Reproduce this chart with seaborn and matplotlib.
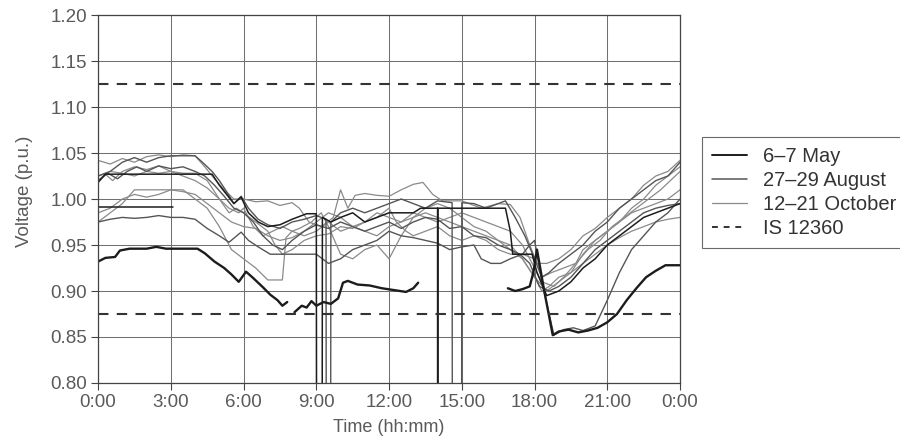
import numpy as np
import pandas as pd
import seaborn as sns
import matplotlib.pyplot as plt
from matplotlib.lines import Line2D

# time of day in hours, NaN marks a gap in the record
may_a_t = [0, 0.3, 0.7, 0.9, 1.3, 2.0, 2.4, 2.8, 3.5, 4.1, 4.4, 4.8, 5.2, 5.5, 5.8, 6.1, 6.4, 6.8, 7.1, 7.4, 7.6, 7.8,
           np.nan, 8.1, 8.4, 8.6, 8.8, 9.0, 9.3, 9.6, 9.9, 10.1, 10.3, 10.7, 11.2, 11.7, 12.2, 12.7, 13.0, 13.2,
           np.nan, 16.9, 17.2, 17.5, 17.8, 17.95, 18.1, 18.4, 18.75, 19.0, 19.4, 19.8, 20.2, 20.6, 21.0, 21.4,
           21.8, 22.2, 22.6, 23.0, 23.4, 24.0]
may_a_v = [0.932, 0.936, 0.937, 0.944, 0.946, 0.946, 0.948, 0.946, 0.946, 0.946, 0.941, 0.932, 0.925, 0.918, 0.91,
           0.921, 0.914, 0.904, 0.896, 0.89, 0.884, 0.888,
           np.nan, 0.877, 0.884, 0.882, 0.889, 0.884, 0.888, 0.886, 0.892, 0.909, 0.911, 0.907, 0.906, 0.903, 0.901,
           0.899, 0.903, 0.909,
           np.nan, 0.903, 0.9, 0.902, 0.905, 0.92, 0.945, 0.9, 0.852, 0.856, 0.858, 0.855, 0.857, 0.86, 0.866, 0.875,
           0.89, 0.903, 0.915, 0.922, 0.928, 0.928]

may_b_t = [0, 3.1]
may_b_v = [0.991, 0.991]

may_c_t = [0, 0.3, 4.7, 5.0, 5.3, 5.6, 5.9, 6.2, 6.6, 7.0, 7.5, 8.0, 8.6, 9.0, 9.01, 9.24, 9.25, 9.6, 10.0, 10.5,
           11.0, 11.5, 12.0, 13.0, 13.3, 14.0, 14.002, 14.008, 14.01, 15.0, 16.0, 16.8, 17.0, 17.1, 17.9, 18.1, 18.5,
           19.0, 19.5, 20.0, 20.5, 21.0, 21.5, 22.0, 22.5, 23.0, 23.5, 24.0]
may_c_v = [1.018, 1.027, 1.027, 1.015, 1.005, 0.995, 1.002, 0.985, 0.975, 0.97, 0.972, 0.978, 0.984, 0.984, 0.70,
           0.70, 0.98, 0.975, 0.98, 0.985, 0.975, 0.98, 0.985, 0.985, 0.99, 0.99, 0.70, 0.70, 0.99, 0.99, 0.99,
           0.99, 0.965, 0.94, 0.94, 0.92, 0.895, 0.9, 0.91, 0.925, 0.935, 0.95, 0.96, 0.97, 0.98, 0.985, 0.99, 0.995]

aug_a_t = [0, 0.5, 1.0, 1.5, 2.0, 2.5, 3.0, 3.5, 4.0, 4.3, 4.7, 5.0, 5.3, 5.6, 5.9, 6.2, 6.6, 7.0, 7.5, 8.0, 8.5,
           9.0, 9.4, 9.41, 9.59, 9.6, 10.0, 10.5, 11.0, 11.5, 12.0, 12.5, 13.0, 13.5, 14.0, 14.6, 14.61, 14.99,
           15.0, 15.5, 16.0, 16.5, 16.8, 17.2, 17.6, 18.0, 18.3, 18.6, 19.0, 19.5, 20.0, 20.5, 21.0, 21.5, 22.0,
           22.5, 23.0, 23.5, 24.0]
aug_a_v = [1.025, 1.03, 1.04, 1.045, 1.04, 1.045, 1.047, 1.047, 1.047, 1.04, 1.03, 1.02, 1.008, 0.995, 1.003,
           0.99, 0.978, 0.972, 0.968, 0.975, 0.978, 0.982, 0.978, 0.70, 0.70, 0.975, 0.985, 0.99, 0.985, 0.99,
           0.995, 1.0, 0.995, 0.99, 0.998, 0.996, 0.70, 0.70, 0.996, 0.995, 0.99, 0.995, 0.998, 0.98, 0.96, 0.935,
           0.915, 0.92, 0.93, 0.94, 0.95, 0.965, 0.975, 0.99, 1.0, 1.01, 1.02, 1.025, 1.04]

aug_b_t = [0, 0.5, 1.0, 1.5, 2.0, 2.5, 3.0, 3.5, 4.0, 4.5, 5.0, 5.4, 5.9, 6.2, 6.6, 7.1, 7.6, 8.0, 8.5, 9.0, 9.5,
           10.0, 10.5, 11.0, 11.5, 12.0, 12.5, 13.0, 13.5, 14.0, 14.5, 15.0, 15.5, 15.8, 16.2, 16.6, 17.0, 17.5,
           17.8, 18.0, 18.3, 18.6, 18.8, 19.2, 19.6, 20.0, 20.5, 21.0, 21.5, 22.0, 22.5, 23.0, 23.5, 24.0]
aug_b_v = [0.975, 0.978, 0.98, 0.979, 0.98, 0.982, 0.98, 0.98, 0.978, 0.968, 0.96, 0.953, 0.964, 0.955, 0.948,
           0.94, 0.94, 0.94, 0.94, 0.94, 0.93, 0.935, 0.945, 0.95, 0.955, 0.965, 0.96, 0.958, 0.955, 0.952, 0.945,
           0.948, 0.95, 0.935, 0.93, 0.93, 0.935, 0.94, 0.95, 0.955, 0.91, 0.875, 0.852, 0.858, 0.86, 0.857, 0.862,
           0.89, 0.92, 0.945, 0.96, 0.975, 0.985, 1.0]

aug_c_t = [0, 0.4, 0.8, 1.2, 1.6, 2.0, 2.5, 3.0, 3.5, 4.0, 4.4, 4.8, 5.2, 5.6, 6.0, 6.4, 6.8, 7.2, 7.6, 8.0, 8.5,
           9.0, 9.5, 10.0, 10.5, 11.0, 11.5, 12.0, 12.5, 13.0, 13.5, 14.0, 14.5, 15.0, 15.5, 16.0, 16.5, 17.0,
           17.4, 17.8, 18.2, 18.6, 19.0, 19.5, 20.0, 20.5, 21.0, 21.5, 22.0, 22.5, 23.0, 23.5, 24.0]
aug_c_v = [1.02, 1.028, 1.022, 1.03, 1.035, 1.03, 1.036, 1.033, 1.035, 1.03, 1.025, 1.015, 1.003, 0.99, 0.985,
           0.975, 0.96, 0.95, 0.945, 0.955, 0.965, 0.972, 0.968, 0.975, 0.97, 0.965, 0.97, 0.975, 0.968, 0.975,
           0.98, 0.978, 0.968, 0.97, 0.96, 0.958, 0.95, 0.945, 0.94, 0.93, 0.905, 0.9, 0.905, 0.915, 0.93, 0.945,
           0.955, 0.965, 0.975, 0.985, 0.99, 0.993, 0.995]

oct_a_t = [0, 0.5, 1, 1.5, 2, 2.5, 3, 3.5, 4, 4.4, 4.8, 5.2, 5.6, 6, 6.5, 7, 7.5, 8, 8.3, 8.7, 9.2, 9.7, 10.0, 10.3,
           10.6, 11, 11.5, 12, 12.5, 13, 13.4, 13.8, 14.2, 15, 15.8, 16.5, 17, 17.4, 17.8, 18.1, 18.5, 19, 19.5,
           20, 20.5, 21, 21.5, 22, 22.5, 23, 23.5, 24]
oct_a_v = [1.042, 1.038, 1.044, 1.04, 1.046, 1.048, 1.046, 1.048, 1.047, 1.035, 1.022, 1.01, 1.0, 1.0, 0.997,
           0.998, 0.993, 0.996, 0.99, 0.975, 0.97, 0.98, 1.01, 0.99, 1.004, 1.006, 1.004, 1.003, 1.01, 1.016,
           1.018, 1.005, 0.998, 0.998, 0.99, 0.995, 0.994, 0.98, 0.95, 0.93, 0.93, 0.935, 0.945, 0.96, 0.968,
           0.98, 0.99, 1.0, 1.015, 1.025, 1.03, 1.042]

oct_b_t = [0, 0.3, 0.6, 1, 1.5, 2, 2.5, 3, 3.5, 4, 4.5, 5, 5.4, 5.7, 6, 6.5, 7, 7.3, 7.6, 8, 8.5, 9, 9.5, 10, 10.5,
           11, 11.5, 12, 12.3, 12.7, 13, 13.5, 14, 14.5, 15, 15.5, 16, 16.5, 17, 17.5, 18, 18.3, 18.7, 19.2, 19.7,
           20, 20.5, 21, 21.5, 22, 22.5, 23, 23.5, 24]
oct_b_v = [1.02, 1.027, 1.02, 1.03, 1.035, 1.032, 1.036, 1.03, 1.028, 1.028, 1.02, 1.0, 0.985, 0.99, 0.985, 0.975,
           0.965, 0.95, 0.94, 0.945, 0.955, 0.96, 0.962, 0.97, 0.968, 0.975, 0.98, 0.99, 0.975, 0.965, 0.96,
           0.965, 0.97, 0.96, 0.955, 0.96, 0.955, 0.945, 0.94, 0.94, 0.935, 0.915, 0.92, 0.925, 0.93, 0.945, 0.955,
           0.965, 0.975, 0.99, 1.0, 1.015, 1.025, 1.035]

oct_c_t = [0, 0.5, 1, 1.5, 2, 2.5, 3, 3.5, 4.0, 4.5, 5.0, 5.5, 6.0, 6.5, 7.0, 7.6, 7.75, 8.0, 8.3, 8.8, 9.2, 9.5,
           10, 10.5, 11, 11.5, 12, 12.5, 13, 13.5, 14, 14.5, 15, 15.5, 16, 16.5, 17, 17.5, 18, 18.3, 18.6, 19,
           19.5, 20, 20.5, 21, 21.5, 22, 22.5, 23, 23.5, 24]
oct_c_v = [0.975, 0.985, 0.995, 1.01, 1.01, 1.01, 1.01, 1.01, 1.0, 0.99, 0.97, 0.945, 0.935, 0.925, 0.912, 0.912,
           0.958, 0.965, 0.968, 0.975, 0.985, 0.97, 0.94, 0.935, 0.945, 0.95, 0.935, 0.96, 0.98, 0.99, 0.995,
           0.99, 0.98, 0.97, 0.965, 0.955, 0.945, 0.935, 0.915, 0.9, 0.905, 0.915, 0.92, 0.94, 0.955, 0.965,
           0.975, 0.985, 0.99, 0.995, 1.0, 1.01]

oct_d_t = [0, 0.5, 1, 1.5, 2, 2.5, 3, 3.5, 4, 4.5, 5, 5.4, 5.8, 6, 6.4, 6.8, 7.2, 7.6, 8, 8.5, 9, 9.5, 10, 10.5,
           11, 11.5, 12, 12.5, 13, 13.5, 14, 14.5, 15, 15.5, 16, 16.5, 17, 17.5, 17.9, 18.3, 18.8, 19.2, 19.7,
           20.2, 20.7, 21.2, 21.7, 22.2, 22.7, 23.2, 23.6, 24]
oct_d_v = [1.025, 1.03, 1.028, 1.025, 1.03, 1.028, 1.03, 1.025, 1.02, 1.012, 1.0, 0.99, 0.985, 0.99, 0.97, 0.96,
           0.965, 0.97, 0.965, 0.96, 0.965, 0.975, 0.965, 0.97, 0.975, 0.985, 0.98, 0.975, 0.985, 0.98, 0.975,
           0.98, 0.985, 0.98, 0.975, 0.97, 0.965, 0.95, 0.93, 0.91, 0.905, 0.915, 0.93, 0.945, 0.955, 0.97, 0.98,
           0.99, 1.0, 1.01, 1.02, 1.03]

oct_e_t = [0, 0.5, 1, 1.5, 2, 2.5, 3, 3.5, 4, 4.5, 5, 5.5, 6, 6.5, 7, 7.5, 8, 8.5, 9, 9.5, 10, 10.5, 11, 11.5, 12,
           12.5, 13, 13.5, 14, 14.5, 15, 15.5, 16, 16.5, 17, 17.5, 18, 18.5, 19, 19.5, 20, 20.5, 21, 21.5, 22,
           22.5, 23, 23.5, 24]
oct_e_v = [0.985, 0.99, 1.0, 1.005, 1.002, 1.005, 1.01, 1.008, 1.005, 0.995, 0.985, 0.975, 0.97, 0.968, 0.96,
           0.955, 0.958, 0.965, 0.975, 0.985, 0.98, 0.97, 0.965, 0.96, 0.97, 0.975, 0.98, 0.985, 0.98, 0.975, 0.97,
           0.965, 0.96, 0.955, 0.95, 0.935, 0.915, 0.9, 0.91, 0.92, 0.93, 0.94, 0.95, 0.958, 0.965, 0.97, 0.975,
           0.978, 0.98]

is_limits = [1.125, 0.875]
x_ticks = [0, 3, 6, 9, 12, 15, 18, 21, 24]
x_labels = ["0:00", "3:00", "6:00", "9:00", "12:00", "15:00", "18:00", "21:00", "0:00"]
legend_labels = ["6\u20137 May", "27\u201329 August", "12\u201321 October", "IS 12360"]

styles = {
    "may": ("#1c1c1c", 1.1),
    "aug": ("#555555", 1.0),
    "oct": ("#8a8a8a", 0.9),
}

series = [
    ("oct", oct_a_t, oct_a_v), ("oct", oct_b_t, oct_b_v), ("oct", oct_c_t, oct_c_v),
    ("oct", oct_d_t, oct_d_v), ("oct", oct_e_t, oct_e_v),
    ("aug", aug_a_t, aug_a_v), ("aug", aug_b_t, aug_b_v), ("aug", aug_c_t, aug_c_v),
    ("may", may_b_t, may_b_v), ("may", may_c_t, may_c_v), ("may", may_a_t, may_a_v),
]

sns.set_theme(style="white")
plt.rcParams["font.family"] = ["Liberation Sans", "DejaVu Sans"]

fig = plt.figure(figsize=(9, 4.42), dpi=100)
ax = fig.add_axes([0.109, 0.1335, 0.6466, 0.8325])

for i, (period, t, v) in enumerate(series):
    df = pd.DataFrame({"t": t, "v": v})
    df["seg"] = df["v"].isna().cumsum()
    df = df.dropna()
    color, lw = styles[period]
    if i == len(series) - 1:
        lw = 1.7  # the heavy May trace
    sns.lineplot(data=df, x="t", y="v", units="seg", estimator=None, sort=False,
                 color=color, lw=lw, ax=ax, legend=False)

for lim in is_limits:
    ax.axhline(lim, color="#333333", lw=1.5, dashes=(5, 4))

ax.set_xlim(0, 24)
ax.set_ylim(0.80, 1.20)
ax.set_xticks(x_ticks)
ax.set_xticklabels(x_labels)
ax.set_yticks(np.arange(0.80, 1.201, 0.05))
ax.yaxis.set_major_formatter(plt.FormatStrFormatter("%.2f"))
ax.grid(True, color="#707070", lw=0.75)
ax.set_axisbelow(True)
for sp in ax.spines.values():
    sp.set_color("#444444")
    sp.set_linewidth(0.9)
ax.tick_params(axis="both", which="major", labelsize=13.5, labelcolor="#5a5a5a",
               color="#444444", length=5, width=0.8, bottom=True, left=True, pad=3)

ax.set_xlabel("Time (hh:mm)", fontsize=13, color="#5a5a5a")
ax.set_ylabel("Voltage (p.u.)", fontsize=13.5, color="#5a5a5a")
ax.xaxis.set_label_coords(0.5, -0.097)
ax.yaxis.set_label_coords(-0.112, 0.52)

handles = [
    Line2D([], [], color=styles["may"][0], lw=1.4),
    Line2D([], [], color=styles["aug"][0], lw=1.1),
    Line2D([], [], color=styles["oct"][0], lw=0.9),
    Line2D([], [], color="#333333", lw=1.4, dashes=(3, 3)),
]
leg = ax.legend(handles, legend_labels, loc="upper left", bbox_to_anchor=(1.038, 0.668),
                borderaxespad=0, frameon=True, fancybox=False, fontsize=14.5,
                handlelength=1.75, handletextpad=0.75, labelspacing=0.25, borderpad=0.5)
leg.get_frame().set_edgecolor("#444444")
leg.get_frame().set_linewidth(0.8)
for txt in leg.get_texts():
    txt.set_color("#333333")

fig.savefig("out.png", dpi=100)
